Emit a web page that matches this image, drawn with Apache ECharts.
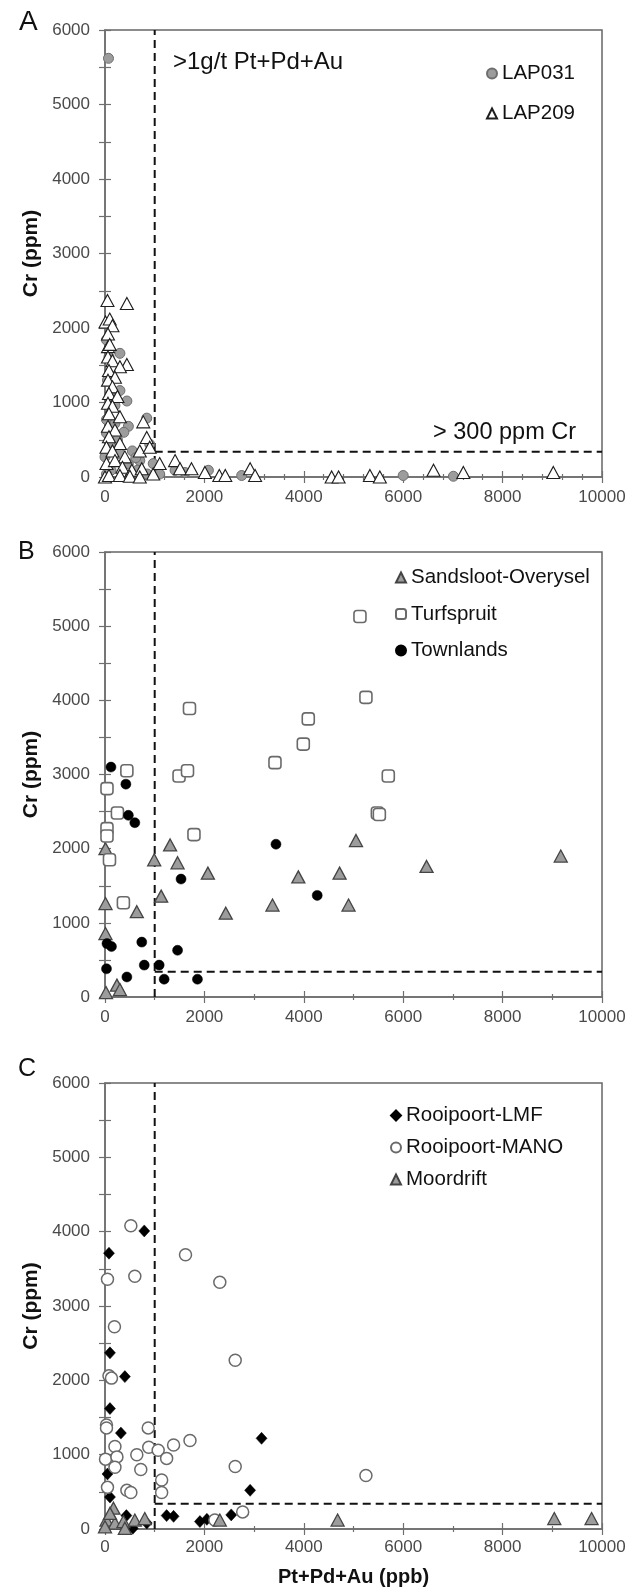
<!DOCTYPE html>
<html><head><meta charset="utf-8">
<script src="https://cdn.jsdelivr.net/npm/echarts@6/dist/echarts.min.js"></script>
<style>html,body{margin:0;padding:0;background:#fff}#c{width:638px;height:1589px}</style>
</head><body><div id="c"></div><script>
// ---------- DATA ----------
const xRange = [0, 10000];
const yRange = [0, 6000];
const xLabelStep = 2000;
const yLabelStep = 1000;
const pgeThreshold = 1000;   // >1 g/t Pt+Pd+Au
const crThreshold = 340;     // > 300 ppm Cr line
const panelLetters = ['A', 'B', 'C'];
const yTitle = 'Cr (ppm)';
const xTitle = 'Pt+Pd+Au (ppb)';
const noteA1 = '>1g/t Pt+Pd+Au';
const noteA2 = '> 300 ppm Cr';

// Panel A
const lap031 = [[70,5620],[30,1840],[80,1610],[300,1660],[80,1340],[300,1160],[150,1080],[440,1020],[30,770],[200,720],[470,680],[840,790],[30,590],[550,350],[900,440],[0,270],[120,440],[300,310],[700,220],[970,180],[120,90],[470,180],[30,40],[1100,40],[1410,90],[1610,60],[2080,90],[2750,20],[6000,20],[7010,10],[50,1300],[200,960],[250,500],[380,600],[620,260],[650,90],[850,40]];
const lap209 = [[50,2370],[440,2330],[10,2080],[95,2120],[150,2030],[60,1920],[60,1750],[95,1780],[60,1610],[150,1560],[440,1510],[300,1480],[80,1430],[200,1340],[60,1300],[150,1210],[80,1120],[250,1080],[60,990],[150,950],[80,850],[300,810],[60,680],[770,740],[840,530],[200,630],[80,540],[30,400],[300,450],[150,350],[400,270],[700,350],[900,400],[30,180],[200,220],[350,130],[540,90],[740,110],[0,0],[80,20],[300,20],[500,10],[700,0],[970,40],[1100,180],[1410,220],[1510,110],[1740,110],[2010,60],[2300,20],[2420,20],[2920,110],[3020,20],[4560,0],[4700,0],[5330,20],[5530,0],[6610,90],[7210,60],[9020,60]];

// Panel B
const sandsloot = [[10,2000],[10,1260],[10,855],[20,60],[240,160],[300,100],[640,1150],[990,1850],[1130,1360],[1310,2050],[1460,1810],[2070,1670],[2430,1130],[3370,1240],[3890,1620],[4720,1670],[5050,2110],[4900,1240],[6470,1760],[9170,1900]];
const turfspruit = [[40,2810],[440,3050],[250,2480],[40,2270],[40,2170],[90,1850],[370,1270],[1490,2980],[1660,3050],[1790,2190],[3420,3160],[1700,3890],[4090,3750],[3990,3410],[5130,5130],[5250,4040],[5700,2980],[5480,2480],[5520,2460]];
const townlands = [[120,3100],[420,2870],[470,2450],[600,2350],[3440,2060],[1530,1590],[4270,1370],[40,720],[130,680],[740,740],[1460,630],[30,380],[790,430],[1090,430],[440,270],[1190,240],[1860,240]];

// Panel C
const rooipoortLMF = [[80,3710],[790,4010],[100,2370],[400,2050],[100,1620],[320,1290],[50,740],[100,430],[3150,1220],[2920,520],[2540,190],[1240,180],[1380,170],[1910,100],[430,180],[840,80],[560,10],[2050,130]];
const rooipoortMANO = [[520,4080],[1620,3690],[50,3360],[600,3400],[2310,3320],[190,2720],[80,2060],[130,2030],[2620,2270],[30,1400],[30,1360],[870,1360],[200,1110],[880,1100],[1070,1060],[1380,1130],[1710,1190],[1240,950],[640,1000],[10,940],[240,970],[200,830],[720,800],[2620,840],[1140,660],[1140,490],[50,560],[440,520],[520,490],[2770,230],[2210,120],[5250,720]];
const moordrift = [[170,280],[30,120],[200,80],[0,30],[370,100],[400,10],[600,120],[800,140],[2310,120],[100,210],[4680,120],[9040,140],[9790,140]];

// ---------- CHART ----------
const FONT = "'Liberation Sans', Arial, sans-serif";
const AX = '#6f6f6f';
const grids = [
  {left:105, top:30, width:497, height:447},
  {left:105, top:552, width:497, height:445},
  {left:105, top:1083, width:497, height:446}
];
const xMinorSplit = [5, 2, 2];
const xLabelMargin = [12, 12, 10];

const xAxes = [], yAxes = [];
grids.forEach((g, i) => {
  const commonX = {type:'value', gridIndex:i, min:xRange[0], max:xRange[1], interval:xLabelStep,
    position:'bottom', splitLine:{show:false}};
  xAxes.push(Object.assign({}, commonX, {
    axisLine:{show:true, onZero:false, lineStyle:{color:AX, width:1.5}},
    axisTick:{show:true, length:6, lineStyle:{color:AX, width:1.2}},
    minorTick:{show:true, splitNumber:xMinorSplit[i], length:3, lineStyle:{color:AX, width:1.2}},
    axisLabel:{margin:xLabelMargin[i], fontSize:17, color:'#4a4a4a', fontFamily:FONT, formatter:v=>String(v)},
    name: i===2 ? xTitle : '', nameLocation:'middle', nameGap:38,
    nameTextStyle:{fontSize:20, fontWeight:'bold', color:'#111', fontFamily:FONT}
  }));
  xAxes.push(Object.assign({}, commonX, {
    axisLine:{show:false, onZero:false},
    axisTick:{show:true, inside:true, length:6, lineStyle:{color:AX, width:1.2}},
    minorTick:{show:true, splitNumber:xMinorSplit[i], length:3, lineStyle:{color:AX, width:1.2}},
    axisLabel:{show:false}
  }));
  const commonY = {type:'value', gridIndex:i, min:yRange[0], max:yRange[1], interval:yLabelStep,
    position:'left', splitLine:{show:false}};
  yAxes.push(Object.assign({}, commonY, {
    axisLine:{show:true, onZero:false, lineStyle:{color:AX, width:1.5}},
    axisTick:{show:true, length:6, lineStyle:{color:AX, width:1.2}},
    minorTick:{show:true, splitNumber:2, length:6, lineStyle:{color:AX, width:1.2}},
    axisLabel:{margin:15, fontSize:17, color:'#4a4a4a', fontFamily:FONT, formatter:v=>String(v)},
    name:yTitle, nameLocation:'middle', nameGap:63,
    nameTextStyle:{fontSize:21, fontWeight:'bold', color:'#111', fontFamily:FONT}
  }));
  yAxes.push(Object.assign({}, commonY, {
    axisLine:{show:false, onZero:false},
    axisTick:{show:true, inside:true, length:6, lineStyle:{color:AX, width:1.2}},
    minorTick:{show:true, splitNumber:2, length:6, lineStyle:{color:AX, width:1.2}},
    axisLabel:{show:false}
  }));
});

function sc(name, data, gi, symbol, size, fill, stroke, bw) {
  return {type:'scatter', name, data, xAxisIndex:gi*2, yAxisIndex:gi*2, symbol, symbolSize:size,
    itemStyle:{color:fill, borderColor:stroke, borderWidth:bw, opacity:1}, silent:true, animation:false};
}
function threshold(gi) {
  const ls = {color:'#111', width:2, type:[8,5]};
  return [
    {type:'line', name:'v'+gi, xAxisIndex:gi*2, yAxisIndex:gi*2, data:[[pgeThreshold,yRange[0]],[pgeThreshold,yRange[1]]],
      showSymbol:false, symbol:'none', lineStyle:ls, silent:true, animation:false, z:1},
    {type:'line', name:'h'+gi, xAxisIndex:gi*2, yAxisIndex:gi*2, data:[[pgeThreshold,crThreshold],[xRange[1],crThreshold]],
      showSymbol:false, symbol:'none', lineStyle:ls, silent:true, animation:false, z:1}
  ];
}
const GRAY = '#9c9c9c';
const series = [
  ...threshold(0), ...threshold(1), ...threshold(2),
  sc('LAP031', lap031, 0, 'circle', 10, GRAY, '#6e6e6e', 1),
  sc('LAP209', lap209, 0, 'triangle', [13,12], '#fff', '#1e1e1e', 1.1),
  sc('Sandsloot-Overysel', sandsloot, 1, 'triangle', [13,12], GRAY, '#444', 1.3),
  sc('Turfspruit', turfspruit, 1, 'roundRect', 12, '#fff', '#6a6a6a', 1.6),
  sc('Townlands', townlands, 1, 'circle', 10, '#000', '#000', 0.5),
  sc('Rooipoort-LMF', rooipoortLMF, 2, 'diamond', [11,12], '#000', '#000', 0.5),
  sc('Rooipoort-MANO', rooipoortMANO, 2, 'circle', 12, '#fff', '#6a6a6a', 1.5),
  sc('Moordrift', moordrift, 2, 'triangle', [13,12], GRAY, '#444', 1.3)
];

const legText = {fontSize:20.5, lineHeight:20, color:'#111', fontFamily:FONT};
const legends = [
  {data:['LAP031','LAP209'], left:486, top:63, itemGap:19},
  {data:['Sandsloot-Overysel','Turfspruit','Townlands'], left:395, top:567, itemGap:15.5},
  {data:['Rooipoort-LMF','Rooipoort-MANO','Moordrift'], left:390, top:1105, itemGap:11}
].map(l => Object.assign({orient:'vertical', itemWidth:10, itemHeight:10, padding:0, selectedMode:false,
  textStyle:legText}, l));

const letterPos = [[19,22,28],[18,552,25],[18,1069,25]];
const graphic = panelLetters.map((t,i) => ({type:'text', left:letterPos[i][0], top:letterPos[i][1]-letterPos[i][2]*0.5,
  style:{text:t, fontSize:letterPos[i][2], fontFamily:FONT, fill:'#111'}}));
graphic.push({type:'text', left:173, top:50, style:{text:noteA1, fontSize:24, fontFamily:FONT, fill:'#111'}});
graphic.push({type:'text', left:433, top:421, style:{text:noteA2, fontSize:23.5, fontFamily:FONT, fill:'#111'}});

const chart = echarts.init(document.getElementById('c'), null, {renderer:'canvas'});
chart.setOption({
  backgroundColor:'#fff',
  animation:false,
  textStyle:{fontFamily:FONT},
  grid: grids.map(g => Object.assign({show:true, borderColor:'#666', borderWidth:1.5, backgroundColor:'#fff', containLabel:false}, g)),
  xAxis: xAxes,
  yAxis: yAxes,
  legend: legends,
  graphic,
  series
});
</script></body></html>
